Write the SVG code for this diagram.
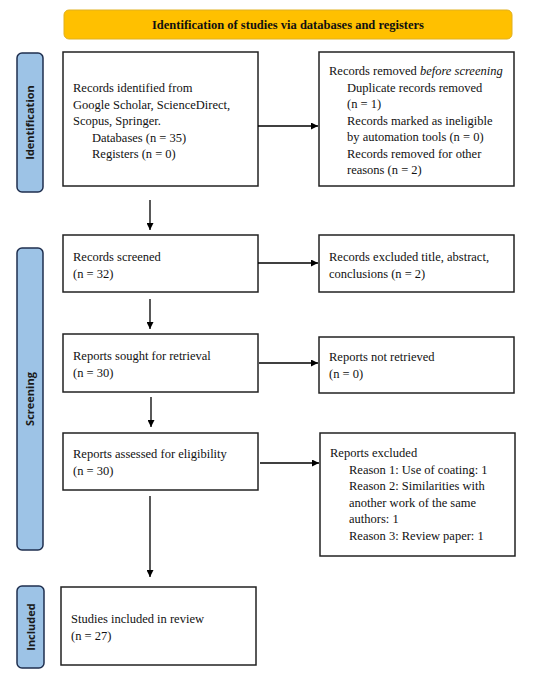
<svg xmlns="http://www.w3.org/2000/svg" width="550" height="676" viewBox="0 0 550 676">
<defs>
<marker id="ah" viewBox="0 0 10 10" refX="10" refY="5" markerWidth="7" markerHeight="7" markerUnits="userSpaceOnUse" orient="auto">
<path d="M0,0 L10,5 L0,10 z" fill="#000"/>
</marker>
<style>
.box{fill:#fff;stroke:#222;stroke-width:1.5}
.side{fill:#9DC3E6;stroke:#1F2F4F;stroke-width:1.5}
.t{font-family:"Liberation Serif",serif;font-size:12.5px;fill:#111}
.st{font-family:"Open Sans","Liberation Sans",sans-serif;font-size:11px;font-weight:bold;fill:#1a1a1a}
.ln{stroke:#000;stroke-width:1.3;fill:none;marker-end:url(#ah)}
</style>
</defs>
<rect width="550" height="676" fill="#fff"/>
<g id="header">
<rect x="64" y="10" width="448" height="29" rx="5" fill="#FFC000" stroke="#E0B020" stroke-width="1"/>
<text x="288" y="29" text-anchor="middle" font-family="Liberation Serif,serif" font-size="12.5" font-weight="bold" fill="#111">Identification of studies via databases and registers</text>
</g>
<g id="lbl-identification">
<rect class="side" x="17" y="53" width="26" height="139" rx="5"/>
<text class="st" transform="translate(34,122.5) rotate(-90)" text-anchor="middle">Identification</text>
</g>
<g id="lbl-screening">
<rect class="side" x="17" y="248" width="26" height="302" rx="5"/>
<text class="st" transform="translate(34,399) rotate(-90)" text-anchor="middle">Screening</text>
</g>
<g id="lbl-included">
<rect class="side" x="17" y="586" width="27" height="82" rx="5"/>
<text class="st" transform="translate(34.5,627) rotate(-90)" text-anchor="middle">Included</text>
</g>
<g id="n-identified">
<rect class="box" x="63" y="52" width="195" height="134"/>
<text class="t" x="73" y="92">Records identified from</text>
<text class="t" x="73" y="108.5">Google Scholar, ScienceDirect,</text>
<text class="t" x="73" y="125">Scopus, Springer.</text>
<text class="t" x="92" y="141.5">Databases (n = 35)</text>
<text class="t" x="92" y="158">Registers (n = 0)</text>
</g>
<g id="n-removed">
<rect class="box" x="319" y="52" width="195" height="134"/>
<text class="t" x="329" y="75">Records removed <tspan font-style="italic">before screening</tspan></text>
<text class="t" x="347" y="91.5">Duplicate records removed</text>
<text class="t" x="347" y="108">(n = 1)</text>
<text class="t" x="347" y="124.5">Records marked as ineligible</text>
<text class="t" x="347" y="141">by automation tools (n = 0)</text>
<text class="t" x="347" y="157.5">Records removed for other</text>
<text class="t" x="347" y="174">reasons (n = 2)</text>
</g>
<g id="n-screened">
<rect class="box" x="63" y="235" width="195" height="57"/>
<text class="t" x="73" y="261">Records screened</text>
<text class="t" x="73" y="277.5">(n = 32)</text>
</g>
<g id="n-excluded">
<rect class="box" x="319" y="235" width="195" height="57"/>
<text class="t" x="329" y="261">Records excluded title, abstract,</text>
<text class="t" x="329" y="277.5">conclusions (n = 2)</text>
</g>
<g id="n-sought">
<rect class="box" x="63" y="334" width="195" height="58"/>
<text class="t" x="73" y="360">Reports sought for retrieval</text>
<text class="t" x="73" y="376.5">(n = 30)</text>
</g>
<g id="n-notretrieved">
<rect class="box" x="319" y="337" width="195" height="56"/>
<text class="t" x="329" y="361">Reports not retrieved</text>
<text class="t" x="329" y="377.5">(n = 0)</text>
</g>
<g id="n-assessed">
<rect class="box" x="63" y="433" width="195" height="57"/>
<text class="t" x="73" y="458">Reports assessed for eligibility</text>
<text class="t" x="73" y="474.5">(n = 30)</text>
</g>
<g id="n-reportsexcluded">
<rect class="box" x="320" y="433" width="195" height="123"/>
<text class="t" x="330" y="457">Reports excluded</text>
<text class="t" x="349" y="473.5">Reason 1: Use of coating: 1</text>
<text class="t" x="349" y="490">Reason 2: Similarities with</text>
<text class="t" x="349" y="506.5">another work of the same</text>
<text class="t" x="349" y="523">authors: 1</text>
<text class="t" x="349" y="539.5">Reason 3: Review paper: 1</text>
</g>
<g id="n-included">
<rect class="box" x="61" y="587" width="195" height="78"/>
<text class="t" x="71" y="623">Studies included in review</text>
<text class="t" x="71" y="639.5">(n = 27)</text>
</g>
<g id="connectors">
<line class="ln" x1="258" y1="126" x2="318" y2="126"/>
<line class="ln" x1="150" y1="200" x2="150" y2="230"/>
<line class="ln" x1="258" y1="263" x2="318" y2="263"/>
<line class="ln" x1="150" y1="299" x2="150" y2="329"/>
<line class="ln" x1="259" y1="363" x2="318" y2="363"/>
<line class="ln" x1="151" y1="397" x2="151" y2="427"/>
<line class="ln" x1="260" y1="463" x2="319" y2="463"/>
<line class="ln" x1="150" y1="496" x2="150" y2="577"/>
</g>
</svg>
